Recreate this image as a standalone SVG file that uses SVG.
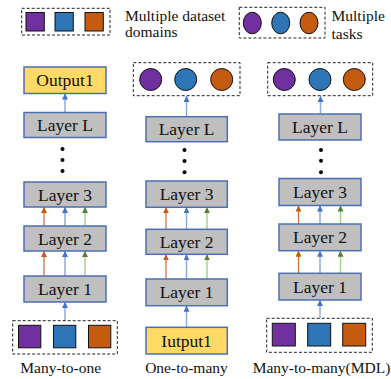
<svg xmlns="http://www.w3.org/2000/svg" width="391" height="379" viewBox="0 0 391 379">
<defs>
<style>
.box{fill:#BFBFBF;stroke:#4A6FB5;stroke-width:1.5}
.yel{fill:#FFD966;stroke:#4A6FB5;stroke-width:1.5}
.dash{fill:#fff;stroke:#222;stroke-width:1;stroke-dasharray:3,2}
.sq{stroke:#111;stroke-width:1}
.pu{fill:#7030A0}.bl{fill:#2E75B6}.or{fill:#C55A11}
text{font-family:'Liberation Serif','DejaVu Serif',serif}
.lbl{font-size:17.5px;fill:#111;text-anchor:middle}
.cap{font-size:15.5px;fill:#111}
.dot{fill:#000}
.ao{stroke:#D0733A;stroke-width:1.3;fill:none;marker-end:url(#mo)}
.ab{stroke:#8FAADC;stroke-width:1.5;fill:none;marker-end:url(#mb)}
.ag{stroke:#A9D18E;stroke-width:1.5;fill:none;marker-end:url(#mg)}
</style>
<marker id="mo" viewBox="0 0 10 10" refX="10" refY="5" markerWidth="6" markerHeight="6" markerUnits="userSpaceOnUse" orient="auto"><path d="M0,0L10,5L0,10z" fill="#C55A11"/></marker>
<marker id="mb" viewBox="0 0 10 10" refX="10" refY="5" markerWidth="6" markerHeight="6" markerUnits="userSpaceOnUse" orient="auto"><path d="M0,0L10,5L0,10z" fill="#4472C4"/></marker>
<marker id="mg" viewBox="0 0 10 10" refX="10" refY="5" markerWidth="6" markerHeight="6" markerUnits="userSpaceOnUse" orient="auto"><path d="M0,0L10,5L0,10z" fill="#548235"/></marker>
</defs>
<rect width="391" height="379" fill="#fff"/>

<g id="legend-domains">
<rect class="dash" x="21.7" y="8.3" width="88.3" height="26.7"/>
<rect class="sq pu" x="26" y="12.5" width="18.3" height="18.5"/>
<rect class="sq bl" x="55" y="12.5" width="18.3" height="18.5"/>
<rect class="sq or" x="85" y="12.5" width="18.3" height="18.5"/>
<text class="cap" x="125" y="20.5" font-family="Liberation Serif, serif">Multiple dataset</text>
<text class="cap" x="125" y="37" font-family="Liberation Serif, serif">domains</text>
</g>
<g id="legend-tasks">
<rect class="dash" x="239.3" y="7.3" width="85.7" height="30.7"/>
<ellipse class="sq pu" cx="252.3" cy="23" rx="9" ry="10.8"/>
<ellipse class="sq bl" cx="280.7" cy="23" rx="9" ry="10.8"/>
<ellipse class="sq or" cx="309" cy="23" rx="9" ry="10.8"/>
<text class="cap" x="331.5" y="20.5">Multiple</text>
<text class="cap" x="331.5" y="39">tasks</text>
</g>

<g id="connectors">
<line class="ab" x1="65" y1="112.5" x2="65" y2="93.5"/>
<line class="ao" x1="44" y1="226" x2="44" y2="207"/>
<line class="ab" x1="65" y1="226" x2="65" y2="207"/>
<line class="ag" x1="85" y1="226" x2="85" y2="207"/>
<line class="ao" x1="44" y1="276" x2="44" y2="251"/>
<line class="ab" x1="65" y1="276" x2="65" y2="251"/>
<line class="ag" x1="85" y1="276" x2="85" y2="251"/>
<line class="ab" x1="65" y1="320.7" x2="65" y2="302"/>

<line class="ab" x1="186.5" y1="116.7" x2="186.5" y2="96"/>
<line class="ao" x1="166" y1="229.3" x2="166" y2="207.3"/>
<line class="ab" x1="186.5" y1="229.3" x2="186.5" y2="207.3"/>
<line class="ag" x1="207" y1="229.3" x2="207" y2="207.3"/>
<line class="ao" x1="166" y1="279" x2="166" y2="254.3"/>
<line class="ab" x1="186.5" y1="279" x2="186.5" y2="254.3"/>
<line class="ag" x1="207" y1="279" x2="207" y2="254.3"/>
<line class="ab" x1="186.5" y1="327.3" x2="186.5" y2="305.7"/>

<line class="ab" x1="320.5" y1="114" x2="320.5" y2="96"/>
<line class="ao" x1="298.5" y1="224" x2="298.5" y2="205.5"/>
<line class="ab" x1="320" y1="224" x2="320" y2="205.5"/>
<line class="ag" x1="340.5" y1="224" x2="340.5" y2="205.5"/>
<line class="ao" x1="298.5" y1="273.3" x2="298.5" y2="250.7"/>
<line class="ab" x1="320" y1="273.3" x2="320" y2="250.7"/>
<line class="ag" x1="340.5" y1="273.3" x2="340.5" y2="250.7"/>
<line class="ab" x1="320" y1="318.3" x2="320" y2="300"/>
</g>

<g id="col1-output"><rect class="yel" x="24" y="67" width="82" height="26.5"/><text class="lbl" x="65" y="86.3">Output1</text></g>
<g id="col1-layerL"><rect class="box" x="24" y="112.5" width="82" height="25"/><text class="lbl" x="65" y="131">Layer L</text></g>
<g id="col1-dots"><circle class="dot" cx="62.5" cy="149" r="2"/><circle class="dot" cx="62.5" cy="160" r="2"/><circle class="dot" cx="62.5" cy="171" r="2"/></g>
<g id="col1-layer3"><rect class="box" x="24" y="182" width="82" height="25"/><text class="lbl" x="65" y="200.5">Layer 3</text></g>
<g id="col1-layer2"><rect class="box" x="24" y="226" width="82" height="25"/><text class="lbl" x="65" y="244.5">Layer 2</text></g>
<g id="col1-layer1"><rect class="box" x="24" y="276" width="82" height="26"/><text class="lbl" x="65" y="295">Layer 1</text></g>
<g id="col1-input">
<rect class="dash" x="12.7" y="320.7" width="104.6" height="33.3"/>
<rect class="sq pu" x="18.5" y="325.3" width="22.3" height="22.5"/>
<rect class="sq bl" x="53.5" y="325.3" width="22.3" height="22.5"/>
<rect class="sq or" x="88.5" y="325.3" width="22.3" height="22.5"/>
</g>
<text class="cap" x="60.7" y="372.7" text-anchor="middle">Many-to-one</text>

<g id="col2-output">
<rect class="dash" x="133.3" y="62.7" width="106.7" height="33"/>
<circle class="sq pu" cx="150.7" cy="79.5" r="11"/>
<circle class="sq bl" cx="185.7" cy="79.5" r="11"/>
<circle class="sq or" cx="221.7" cy="79.5" r="11"/>
</g>
<g id="col2-layerL"><rect class="box" x="146" y="116.7" width="81.3" height="25"/><text class="lbl" x="186.6" y="135.2">Layer L</text></g>
<g id="col2-dots"><circle class="dot" cx="184.5" cy="150" r="2"/><circle class="dot" cx="184.5" cy="161" r="2"/><circle class="dot" cx="184.5" cy="172.3" r="2"/></g>
<g id="col2-layer3"><rect class="box" x="146" y="181" width="81.3" height="26.3"/><text class="lbl" x="186.6" y="200.2">Layer 3</text></g>
<g id="col2-layer2"><rect class="box" x="146" y="229.3" width="81.3" height="25"/><text class="lbl" x="186.6" y="247.8">Layer 2</text></g>
<g id="col2-layer1"><rect class="box" x="146" y="279" width="81.3" height="26.7"/><text class="lbl" x="186.6" y="298.4">Layer 1</text></g>
<g id="col2-input"><rect class="yel" x="146" y="327.3" width="81.3" height="26.7"/><text class="lbl" x="186.6" y="346.7">Iutput1</text></g>
<text class="cap" x="186.5" y="372.7" text-anchor="middle">One-to-many</text>

<g id="col3-output">
<rect class="dash" x="267.7" y="62.7" width="105" height="33"/>
<circle class="sq pu" cx="284.3" cy="79.5" r="11"/>
<circle class="sq bl" cx="320" cy="79.5" r="11"/>
<circle class="sq or" cx="354.3" cy="79.5" r="11"/>
</g>
<g id="col3-layerL"><rect class="box" x="279" y="114" width="82" height="26"/><text class="lbl" x="320" y="133">Layer L</text></g>
<g id="col3-dots"><circle class="dot" cx="321" cy="150" r="2"/><circle class="dot" cx="321" cy="160.7" r="2"/><circle class="dot" cx="321" cy="172.3" r="2"/></g>
<g id="col3-layer3"><rect class="box" x="279" y="178.5" width="82" height="27"/><text class="lbl" x="320" y="198">Layer 3</text></g>
<g id="col3-layer2"><rect class="box" x="279" y="224" width="82" height="26.7"/><text class="lbl" x="320" y="243.3">Layer 2</text></g>
<g id="col3-layer1"><rect class="box" x="279" y="273.3" width="82" height="26.7"/><text class="lbl" x="320" y="292.6">Layer 1</text></g>
<g id="col3-input">
<rect class="dash" x="266.7" y="318.3" width="105.6" height="34"/>
<rect class="sq pu" x="272.3" y="323.3" width="23" height="22.7"/>
<rect class="sq bl" x="307.7" y="323.3" width="23" height="22.7"/>
<rect class="sq or" x="342.7" y="323.3" width="23" height="22.7"/>
</g>
<text class="cap" x="321.5" y="372.7" text-anchor="middle">Many-to-many(MDL)</text>
</svg>
